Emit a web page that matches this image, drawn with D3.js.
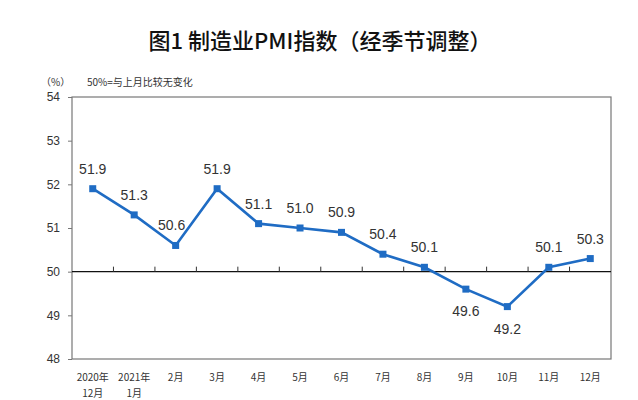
<!DOCTYPE html>
<html><head><meta charset="utf-8">
<script src="https://cdn.jsdelivr.net/npm/d3@7"></script>
<style>body{margin:0;background:#fff;} svg{display:block;}</style>
</head><body>
<svg id="c" width="638" height="400"></svg>
<script>
const categories = ["2020年\n12月","2021年\n1月","2月","3月","4月","5月","6月","7月","8月","9月","10月","11月","12月"];
const pmiValues = [51.9,51.3,50.6,51.9,51.1,51.0,50.9,50.4,50.1,49.6,49.2,50.1,50.3];
const labelBelow = [false,false,false,false,false,false,false,false,false,true,true,false,false];
const yTicks = [48,49,50,51,52,53,54];

(function () {
const svg = d3.select("#c");
const pL = 72, pR = 611, pT = 97, pB = 359;
const x = d3.scaleBand().domain(categories).range([pL, pR]);
const y = d3.scaleLinear().domain([48, 54]).range([pB, pT]);
const cx = d => x(d) + x.bandwidth() / 2;

// title
svg.append("text").attr("x", 320).attr("y", 49).attr("text-anchor", "middle")
  .attr("font-family", "Noto Sans CJK SC").attr("font-size", 22).attr("font-weight", 500)
  .attr("fill", "#111").text("图1 制造业PMI指数（经季节调整）");

svg.append("text").attr("x", 41).attr("y", 86).attr("font-family", "Noto Sans CJK SC")
  .attr("font-size", 10).attr("fill", "#333").text("（%）");
svg.append("text").attr("x", 87).attr("y", 86).attr("font-family", "Noto Sans CJK SC")
  .attr("font-size", 10).attr("fill", "#333").text("50%=与上月比较无变化");

// plot border
svg.append("rect").attr("x", pL).attr("y", pT).attr("width", pR - pL).attr("height", pB - pT)
  .attr("fill", "none").attr("stroke", "#777").attr("stroke-width", 1.2);

// y axis
const yAxis = d3.axisLeft(y).tickValues(yTicks).tickFormat(d3.format("d")).tickSize(4).tickPadding(8);
const gy = svg.append("g").attr("transform", `translate(${pL},0)`).call(yAxis);
gy.select(".domain").remove();
gy.selectAll(".tick line").attr("stroke", "#777");
gy.selectAll(".tick text").attr("font-family", "Liberation Sans, Arial").attr("font-size", 12).attr("fill", "#333");

// 50 reference line with ticks at band boundaries
svg.append("line").attr("x1", pL).attr("x2", pR).attr("y1", y(50)).attr("y2", y(50))
  .attr("stroke", "#111").attr("stroke-width", 1.2);
const bounds = categories.slice(1).map(c => x(c));
svg.selectAll("line.bt").data(bounds).enter().append("line").attr("class", "bt")
  .attr("x1", d => d).attr("x2", d => d).attr("y1", y(50)).attr("y2", y(50) - 5)
  .attr("stroke", "#333").attr("stroke-width", 1);

// x labels
const xl = svg.append("g");
categories.forEach(c => {
  const lines = c.split("\n");
  lines.forEach((t, i) => {
    xl.append("text").attr("x", cx(c)).attr("y", 381 + i * 16).attr("text-anchor", "middle")
      .attr("font-family", "Noto Sans CJK SC").attr("font-size", 10).attr("fill", "#333").text(t);
  });
});

// line
const line = d3.line().x((d, i) => cx(categories[i])).y(d => y(d));
svg.append("path").datum(pmiValues).attr("d", line).attr("fill", "none")
  .attr("stroke", "#1f6cc4").attr("stroke-width", 2.6).attr("stroke-linejoin", "miter");
svg.selectAll("rect.m").data(pmiValues).enter().append("rect").attr("class", "m")
  .attr("x", (d, i) => cx(categories[i]) - 3.5).attr("y", d => y(d) - 3.5)
  .attr("width", 7).attr("height", 7).attr("fill", "#1f6cc4");

// value labels
svg.selectAll("text.v").data(pmiValues).enter().append("text").attr("class", "v")
  .attr("x", (d, i) => cx(categories[i]) + (i === 2 ? -4 : 0))
  .attr("y", (d, i) => labelBelow[i] ? y(d) + 27 : y(d) - 15)
  .attr("text-anchor", "middle").attr("font-family", "Liberation Sans, Arial")
  .attr("font-size", 14).attr("fill", "#333").text(d => d.toFixed(1));
})();
</script>
</body></html>
